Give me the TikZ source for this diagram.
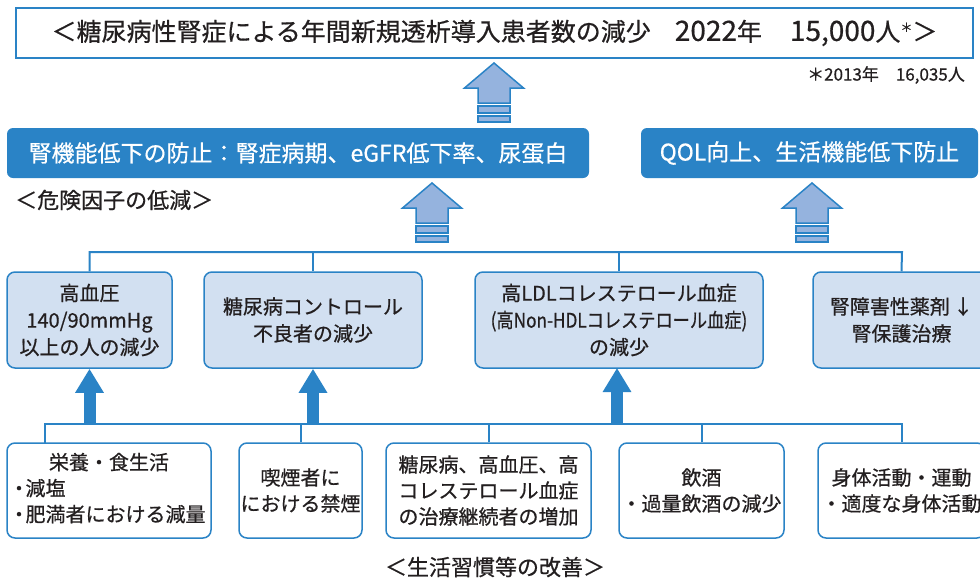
\documentclass[tikz,border=0pt]{standalone}
\usepackage{fontspec}
\usepackage{graphicx}
\setmainfont[FakeBold=0.6]{Noto Sans CJK JP}
\usetikzlibrary{arrows.meta}
\definecolor{dblue}{HTML}{2A83C6}
\definecolor{lblue}{HTML}{95B3DE}
\definecolor{pblue}{HTML}{D2E0F1}
\definecolor{txt}{HTML}{231F20}
\tikzset{
  titlebox/.style={draw=dblue, line width=2.5pt, fill=white, minimum width=957pt, minimum height=50pt, font=\fontsize{25}{28}\selectfont},
  bluebox/.style={fill=dblue, rounded corners=6pt, minimum height=50pt, text=white, font=\fontsize{23}{27}\selectfont},
  midbox/.style={draw=dblue, line width=1.5pt, fill=pblue, rounded corners=8pt, minimum height=96pt, align=center, font=\fontsize{20}{27}\selectfont},
  lowbox/.style={draw=dblue, line width=1.5pt, fill=white, rounded corners=8pt, minimum height=95pt, align=center, font=\fontsize{20}{26}\selectfont},
  sectlabel/.style={font=\fontsize{22}{26}\selectfont},
  bus/.style={draw=dblue, line width=2pt},
  solidup/.style={draw=dblue, line width=12pt, -{Triangle[width=27pt,length=24pt]}},
  hollowpart/.style={draw=dblue, fill=lblue, line width=1.5pt, line join=miter},
  hollowup/.pic={
    \filldraw[hollowpart] (0,0) -- (29.5,25) -- (16,25) -- (16,40) -- (-16,40) -- (-16,25) -- (-29.5,25) -- cycle;
    \filldraw[hollowpart] (-16,43) rectangle (16,50);
    \filldraw[hollowpart] (-16,53) rectangle (16,59);
  }
}
\begin{document}
\begin{tikzpicture}[x=1pt,y=-1pt, every node/.style={text=txt, inner sep=0pt}]
\useasboundingbox[fill=white] (0,0) rectangle (980,584);
\clip (0,0) rectangle (980,584);

% top
\node[titlebox] (title) at (494.5,33) {＜糖尿病性腎症による年間新規透析導入患者数の減少\hspace{24pt}{\fontsize{28}{28}\selectfont 2022}年\hspace{28pt}{\fontsize{28}{28}\selectfont 15,000}人\raisebox{9pt}{\fontsize{12}{12}\selectfont ＊}＞};
\node[anchor=east, font=\fontsize{17}{20}\selectfont] (note) at (965,75) {＊2013年　16,035人};
\pic at (494,63) {hollowup};

\node[bluebox, minimum width=582pt] (kid) at (298,153) {腎機能低下の防止：腎症病期、eGFR低下率、尿蛋白};
\node[bluebox, minimum width=337pt] (qol) at (809.5,153) {QOL向上、生活機能低下防止};
\node[sectlabel, anchor=west] (risk) at (15,200) {＜危険因子の低減＞};
\pic at (432,183) {hollowup};
\pic at (812,183) {hollowup};

% middle boxes
\node[midbox, minimum width=165pt] (m1) at (89.5,320) {高血圧\\140/90mmHg\\以上の人の減少};
\node[midbox, minimum width=218pt] (m2) at (313,320) {糖尿病コントロール\\不良者の減少};
\node[midbox, minimum width=288pt] (m3) at (619,320) {高LDLコレステロール血症\\\scalebox{0.86}[1]{(高Non-HDLコレステロール血症)}\\の減少};
\node[midbox, minimum width=177pt] (m4) at (901.5,320) {腎障害性薬剤\,↓\\腎保護治療};

\coordinate (ub) at (89,252);
\coordinate (ue) at (902,252);
\draw[bus] (m1.north) |- (ue) -- (m4.north);
\draw[bus] (m2.north) -- (m2.north |- ub);
\draw[bus] (m3.north) -- (m3.north |- ub);

% bottom boxes
\node[lowbox, minimum width=204pt] (b1) at (109,490.5) {\begin{tabular}{@{}l@{}}\multicolumn{1}{@{}c@{}}{栄養・食生活}\\\makebox[13pt][c]{・}減塩\\\makebox[13pt][c]{・}肥満者における減量\end{tabular}};
\node[lowbox, minimum width=123pt] (b2) at (300.5,490.5) {喫煙者に\\における禁煙};
\node[lowbox, minimum width=205pt] (b3) at (488.5,490.5) {糖尿病、高血圧、高\\コレステロール血症\\の治療継続者の増加};
\node[lowbox, minimum width=165pt] (b4) at (701.5,490.5) {飲酒\\・過量飲酒の減少};
\node[lowbox, minimum width=167pt] (b5) at (901.5,490.5) {身体活動・運動\\・適度な身体活動};

\coordinate (lb) at (45,424);
\coordinate (b1top) at (45,443);
\draw[bus] (b1top) -- (lb) -- (lb -| b5.north) -- (b5.north);
\draw[bus] (b2.north) -- (b2.north |- lb);
\draw[bus] (b3.north) -- (b3.north |- lb);
\draw[bus] (b4.north) -- (b4.north |- lb);

\draw[solidup] (m1.south |- lb) -- (m1.south);
\draw[solidup] (m2.south |- lb) -- (m2.south);
\draw[solidup] (617,424) -- (617,368);

\node[sectlabel] (life) at (495,567) {＜生活習慣等の改善＞};
\end{tikzpicture}
\end{document}
